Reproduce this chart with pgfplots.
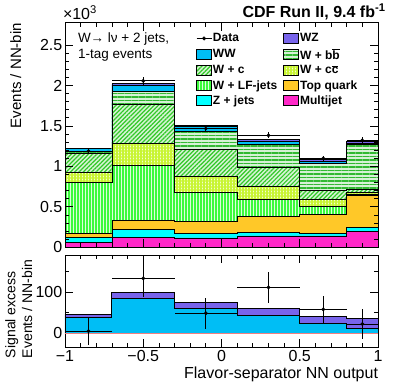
\documentclass[border=0pt]{standalone}
\usepackage{fontspec}
\setmainfont{Liberation Sans}
\usepackage{pgfplots}
\pgfplotsset{compat=1.18}
\usepackage{pgfplotstable}
\usetikzlibrary{patterns.meta}

\definecolor{wwcol}{RGB}{0,190,245}
\definecolor{wzcol}{RGB}{120,100,235}
\definecolor{zcol}{RGB}{0,255,255}
\definecolor{topcol}{RGB}{255,200,40}
\definecolor{mjcol}{RGB}{255,40,200}
\definecolor{wcgreen}{RGB}{50,200,40}
\definecolor{bbgreen}{RGB}{50,185,50}
\definecolor{lfgreen}{RGB}{60,250,60}
\definecolor{ccgreen}{RGB}{200,245,50}
\definecolor{zeroline}{RGB}{240,128,128}

% stacked components (units of 10^3 events), step coordinates
\pgfplotstableread{
x     mj    z     top   lf    cc    c     bb    ww    wz
-1    0.062 0.062 0.042 0.640 0.124 0.227 0.023 0.038 0.009
-0.7  0.062 0.062 0.042 0.640 0.124 0.227 0.023 0.038 0.009
-0.7  0.124 0.091 0.116 0.675 0.279 0.480 0.156 0.085 0.015
-0.3  0.124 0.091 0.116 0.675 0.279 0.480 0.156 0.085 0.015
-0.3  0.115 0.060 0.140 0.367 0.194 0.337 0.217 0.061 0.015
0.1   0.115 0.060 0.140 0.367 0.194 0.337 0.217 0.061 0.015
0.1   0.140 0.040 0.196 0.219 0.153 0.234 0.288 0.043 0.017
0.5   0.140 0.040 0.196 0.219 0.153 0.234 0.288 0.043 0.017
0.5   0.140 0.030 0.235 0.099 0.083 0.116 0.332 0.030 0.020
0.8   0.140 0.030 0.235 0.099 0.083 0.116 0.332 0.030 0.020
0.8   0.200 0.040 0.400 0.015 0.025 0.030 0.555 0.015 0.028
1     0.200 0.040 0.400 0.015 0.025 0.030 0.555 0.015 0.028
}\stacktab

% signal excess components (events), step coordinates
\pgfplotstableread{
x     ww    wz
-1    38    9
-0.7  38    9
-0.7  85    15
-0.3  85    15
-0.3  61    15
0.1   61    15
0.1   43    17
0.5   43    17
0.5   23.5  17
0.8   23.5  17
0.8   11.5  25
1     11.5  25
}\sigtab

\pgfplotsset{
  base/.style={scale only axis, width=313pt, xmin=-1, xmax=1,
    axis line style={line width=0.9pt},
    tick style={black, line width=0.8pt},
    major tick length=8pt, minor tick length=4pt, tick align=inside,
    xtick={-1,-0.5,0,0.5,1}, minor x tick num=4,
    tick label style={font=\fontsize{16}{16}\selectfont},
    yticklabel style={inner sep=2.5pt},
    xticklabel style={inner sep=2.5pt},
    axis on top},
  stk/.style={draw=black, line width=0.9pt, forget plot},
  box/.style={legend image code/.code={\draw[##1, draw=black, line width=0.8pt] (0pt,-5pt) rectangle (15pt,5pt);}},
  patLF/.style={fill=lfgreen!18, postaction={pattern={Lines[angle=90,distance=3pt,line width=1.3pt]}, pattern color=lfgreen}},
  patCC/.style={fill=ccgreen!22, postaction={pattern={Hatch[angle=0,distance=3pt,line width=1.1pt]}, pattern color=ccgreen}},
  patC/.style={fill=wcgreen!20, postaction={pattern={Lines[angle=45,distance=3pt,line width=1.2pt]}, pattern color=wcgreen}},
  patBB/.style={fill=bbgreen!20, postaction={pattern={Lines[angle=0,distance=3.5pt,line width=1.3pt]}, pattern color=bbgreen}},
}

\begin{document}
\begin{tikzpicture}
\useasboundingbox (0pt,0pt) rectangle (407pt,391pt);

\begin{axis}[base, at={(65pt,143.7pt)}, anchor=south west, height=224.6pt,
  ymin=0, ymax=2.776, ytick={0,0.5,1,1.5,2,2.5},
  yticklabels={0,0.5,1,1.5,2,2.5}, minor y tick num=4,
  xticklabels={}, stack plots=y,
  legend columns=2, legend cell align=left,
  legend style={at={(0.4185,0.957)}, anchor=north west, draw=none, fill=none,
    inner sep=0pt, font=\bfseries\fontsize{12}{12}\selectfont, row sep=3pt,
    nodes={inner sep=1pt},
    /tikz/every even column/.append style={column sep=5pt}}]
\addplot[stk, fill=mjcol] table[x=x,y=mj]{\stacktab} \closedcycle;
\addplot[stk, fill=zcol] table[x=x,y=z]{\stacktab} \closedcycle;
\addplot[stk, fill=topcol] table[x=x,y=top]{\stacktab} \closedcycle;
\addplot[stk, patLF] table[x=x,y=lf]{\stacktab} \closedcycle;
\addplot[stk, patCC] table[x=x,y=cc]{\stacktab} \closedcycle;
\addplot[stk, patC] table[x=x,y=c]{\stacktab} \closedcycle;
\addplot[stk, patBB] table[x=x,y=bb]{\stacktab} \closedcycle;
\addplot[stk, fill=wwcol] table[x=x,y=ww]{\stacktab} \closedcycle;
\addplot[stk, fill=wzcol] table[x=x,y=wz]{\stacktab} \closedcycle;

\addlegendimage{legend image code/.code={\draw[black, line width=0.8pt] (0pt,0pt) -- (15pt,0pt); \fill[black] (7.5pt,0pt) circle (1.8pt);}}
\addlegendentry{Data}
\addlegendimage{box, fill=wzcol}
\addlegendentry{WZ}
\addlegendimage{box, fill=wwcol}
\addlegendentry{WW}
\addlegendimage{box, patBB}
\addlegendentry{W + b$\overline{\hbox{b}}$}
\addlegendimage{box, patC}
\addlegendentry{W + c}
\addlegendimage{box, patCC}
\addlegendentry{W + c$\overline{\hbox{c}}$}
\addlegendimage{box, patLF}
\addlegendentry{W + LF-jets}
\addlegendimage{box, fill=topcol}
\addlegendentry{Top quark}
\addlegendimage{box, fill=zcol}
\addlegendentry{Z + jets}
\addlegendimage{box, fill=mjcol}
\addlegendentry{Multijet}
\end{axis}

% data overlay, top panel
\begin{axis}[base, hide axis, at={(65pt,143.7pt)}, anchor=south west, height=224.6pt,
  ymin=0, ymax=2.776]
\addplot[black, only marks, mark=*, mark size=1.7pt,
  error bars/.cd, x dir=both, x explicit, y dir=both, y explicit,
  error bar style={line width=0.9pt, black}, error mark=none]
coordinates {
  (-0.85,1.190) +- (0.15,0.035)
  (-0.50,2.057) +- (0.20,0.045)
  (-0.10,1.467) +- (0.20,0.038)
  (0.30,1.384) +- (0.20,0.037)
  (0.65,1.100) +- (0.15,0.033)
  (0.90,1.322) +- (0.10,0.036)
};
\end{axis}

% bottom panel
\begin{axis}[base, at={(65pt,43.7pt)}, anchor=south west, height=92.3pt,
  ymin=-34, ymax=191, ytick={0,100}, yticklabels={0,100}, minor ytick={50,150},
  xticklabels={−1,−0.5,0,0.5,1}, stack plots=y]
\addplot[stk, fill=wwcol] table[x=x,y=ww]{\sigtab} \closedcycle;
\addplot[stk, fill=wzcol] table[x=x,y=wz]{\sigtab} \closedcycle;
\end{axis}

\begin{axis}[base, hide axis, at={(65pt,43.7pt)}, anchor=south west, height=92.3pt,
  ymin=-34, ymax=191]
\addplot[zeroline, line width=0.8pt] coordinates {(-1,0) (1,0)};
\addplot[black, only marks, mark=*, mark size=1.7pt,
  error bars/.cd, x dir=both, x explicit, y dir=both, y explicit,
  error bar style={line width=0.9pt, black}, error mark=none]
coordinates {
  (-0.85,5.6) +- (0.15,33)
  (-0.50,134) +- (0.20,45)
  (-0.10,49) +- (0.20,37.5)
  (0.30,112) +- (0.20,37)
  (0.65,58.5) +- (0.15,32.5)
  (0.90,22.7) +- (0.10,36)
};
\end{axis}

\tikzset{lab/.style={inner sep=0pt, outer sep=0pt}}
\node[lab, rotate=90, anchor=base east, font=\fontsize{15}{15}\selectfont] at (21pt,368pt) {Events / NN-bin};
\node[lab, rotate=90, anchor=base west, font=\fontsize{14}{14}\selectfont] at (15.5pt,33pt) {Signal excess};
\node[lab, rotate=90, anchor=base west, font=\fontsize{14}{14}\selectfont] at (32pt,33pt) {Events / NN-bin};
\node[lab, anchor=base east, font=\fontsize{16}{16}\selectfont] at (378pt,12.7pt) {Flavor-separator NN output};
\node[lab, anchor=base east, font=\bfseries\fontsize{16}{16}\selectfont] at (385.5pt,373.7pt) {CDF Run II, 9.4 fb\textsuperscript{-1}};
\node[lab, anchor=base west, font=\fontsize{16}{16}\selectfont] at (63pt,371pt) {×10\textsuperscript{3}};
\node[lab, anchor=base west, font=\fontsize{13.5}{13.5}\selectfont] at (78pt,348pt) {W→ lν + 2 jets,};
\node[lab, anchor=base west, font=\fontsize{13.5}{13.5}\selectfont] at (78pt,332pt) {1-tag events};
\end{tikzpicture}
\end{document}
